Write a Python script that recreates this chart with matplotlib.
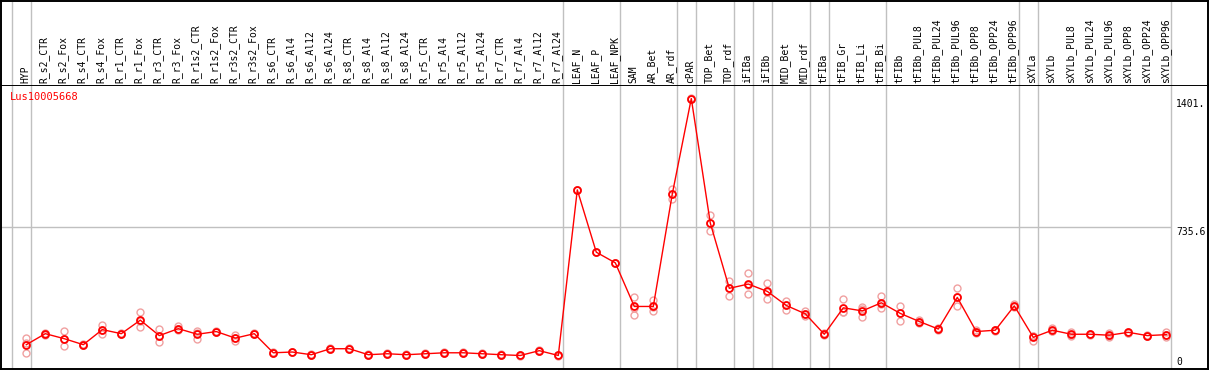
import matplotlib
matplotlib.use("Agg")
import matplotlib.pyplot as plt
from matplotlib.transforms import blended_transform_factory, ScaledTranslation

# ---------------- data ----------------
gene = "Lus10005668"

categories = [
    "HYP", "R_s2_CTR", "R_s2_Fox", "R_s4_CTR", "R_s4_Fox", "R_r1_CTR", "R_r1_Fox",
    "R_r3_CTR", "R_r3_Fox", "R_r1s2_CTR", "R_r1s2_Fox", "R_r3s2_CTR", "R_r3s2_Fox",
    "R_s6_CTR", "R_s6_Al4", "R_s6_Al12", "R_s6_Al24", "R_s8_CTR", "R_s8_Al4",
    "R_s8_Al12", "R_s8_Al24", "R_r5_CTR", "R_r5_Al4", "R_r5_Al12", "R_r5_Al24",
    "R_r7_CTR", "R_r7_Al4", "R_r7_Al12", "R_r7_Al24",
    "LEAF_N", "LEAF_P", "LEAF_NPK", "SAM", "AR_Bet", "AR_rdf", "cPAR",
    "TOP_Bet", "TOP_rdf", "iFIBa", "iFIBb", "MID_Bet", "MID_rdf",
    "tFIBa", "tFIB_Gr", "tFIB_Li", "tFIB_Bi",
    "tFIBb", "tFIBb_PUL8", "tFIBb_PUL24", "tFIBb_PUL96", "tFIBb_OPP8", "tFIBb_OPP24", "tFIBb_OPP96",
    "sXYLa", "sXYLb", "sXYLb_PUL8", "sXYLb_PUL24", "sXYLb_PUL96", "sXYLb_OPP8", "sXYLb_OPP24", "sXYLb_OPP96",
]

means = [
    126, 183, 157, 126, 204, 183, 253, 173, 209, 180, 194, 160, 183,
    84, 88, 74, 105, 105, 74, 79, 74, 79, 84, 84, 79, 74, 70, 95, 70,
    928, 605, 550, 324, 324, 907, 1401.2,
    756, 418, 440, 402, 329, 286,
    180, 317, 301, 343,
    288, 246, 207, 371, 194, 201, 327,
    164, 201, 180, 180, 175, 190, 173, 178,
]

replicates = [
    [160, 82, 136], [178, 188, 183], [195, 119, 157], [122, 130, 126], [230, 180, 202],
    [180, 186, 183], [293, 215, 251], [207, 142, 170], [221, 200, 206], [197, 155, 188],
    [198, 190, 194], [176, 143, 161], [187, 180, 182],
    [86, 82, 84], [90, 86, 88], [76, 72, 74], [107, 103, 105], [107, 103, 105],
    [76, 72, 74], [81, 77, 79], [76, 72, 74], [81, 77, 79], [86, 82, 84],
    [86, 82, 84], [81, 77, 79], [76, 72, 74], [72, 68, 70], [97, 93, 95], [72, 68, 70],
    [928, 928, 928], [605, 605, 605], [550, 550, 550],
    [374, 282, 316], [355, 298, 319], [935, 882, 904], [1405, 1398, 1401],
    [798, 713, 757], [456, 376, 422], [496, 388, 436], [445, 364, 397],
    [352, 305, 330], [298, 276, 284],
    [185, 176, 179], [361, 293, 297], [322, 270, 311], [378, 314, 337],
    [324, 251, 289], [252, 240, 246], [214, 200, 207], [418, 324, 371],
    [194, 186, 202], [204, 198, 201], [336, 320, 325],
    [147, 172, 173], [210, 196, 197], [194, 172, 174], [182, 178, 180],
    [188, 164, 173], [193, 188, 189], [176, 171, 172], [190, 168, 176],
]

# index of last category in each group (separator after it)
group_last = [-1, 0, 28, 31, 34, 35, 37, 38, 39, 41, 42, 45, 52, 53, 60]

# ---------------- figure ----------------
W, H = 1209, 370
fig = plt.figure(figsize=(W / 100, H / 100), dpi=100)
fig.patch.set_facecolor("white")

mono = "DejaVu Sans Mono"
fs = 7
red = "#ff0000"
pink = "#f0a0a0"
grey = "#c0c0c0"

x_left_px, x_right_px = 1, 1208
header_bottom_px = 85
plot_bottom_px = 369
first_px, step_px = 26.3, 19.0

xlim = ((x_left_px - first_px) / step_px, (x_right_px - first_px) / step_px)

ax = fig.add_axes([x_left_px / W, (H - plot_bottom_px) / H,
                   (x_right_px - x_left_px) / W, (plot_bottom_px - header_bottom_px) / H])
hx = fig.add_axes([x_left_px / W, (H - header_bottom_px) / H,
                   (x_right_px - x_left_px) / W, (header_bottom_px - 1) / H])

ymax_val = max(means)
ytop = ymax_val * 1.05
ymid = ytop / 2

for a in (ax, hx):
    a.set_xlim(*xlim)
    a.set_xticks([])
    a.set_yticks([])
    for s in a.spines.values():
        s.set_color("black")
        s.set_linewidth(1.4)
hx.spines["bottom"].set_visible(False)
hx.set_ylim(0, 1)
ax.set_ylim(0, ytop)

sep_off = 4.3 / step_px
for g in group_last:
    for a in (ax, hx):
        a.axvline(g + sep_off, color=grey, lw=1.0, zorder=1)

x_end = group_last[-1] + sep_off
ax.plot([xlim[0], x_end], [ymid, ymid], color=grey, lw=1.0, zorder=1, solid_capstyle="butt")

xs = list(range(len(categories)))

# replicates
for i, reps in enumerate(replicates):
    ax.plot([i] * len(reps), reps, linestyle="none", marker="o", ms=5.0,
            mfc="none", mec=pink, mew=1.0, zorder=2)

# mean line
ax.plot(xs, means, color=red, lw=1.0, marker="o", ms=5.0, mfc="none",
        mec=red, mew=1.3, zorder=3)

# header labels
tr_h = blended_transform_factory(hx.transData, hx.transAxes)
for i, c in enumerate(categories):
    hx.text(i - 0.05, 0.02, c, rotation=90, ha="center", va="bottom",
            fontsize=fs, family=mono, color="black", transform=tr_h)

# gene name
ax.text(0, 1, gene, color=red, fontsize=fs + 0.5, family=mono, ha="left", va="top",
        transform=ax.transAxes + ScaledTranslation(9 / 100, -7 / 100, fig.dpi_scale_trans))

# right-side value labels
tr_r = blended_transform_factory(ax.transAxes, ax.transData)
xr = (1176 - x_left_px) / (x_right_px - x_left_px)
ax.text(xr, ymax_val, str(round(ymax_val, 1))[:5], fontsize=fs, family=mono,
        ha="left", va="top", transform=tr_r)
ax.text(xr, ymid, f"{ymid:.1f}", fontsize=fs, family=mono, ha="left", va="top",
        transform=tr_r)
ax.text(xr, 0, "0", fontsize=fs, family=mono, ha="left", va="bottom",
        transform=tr_r + ScaledTranslation(0, 2 / 100, fig.dpi_scale_trans))

fig.savefig("out.png", dpi=100, facecolor="white")
